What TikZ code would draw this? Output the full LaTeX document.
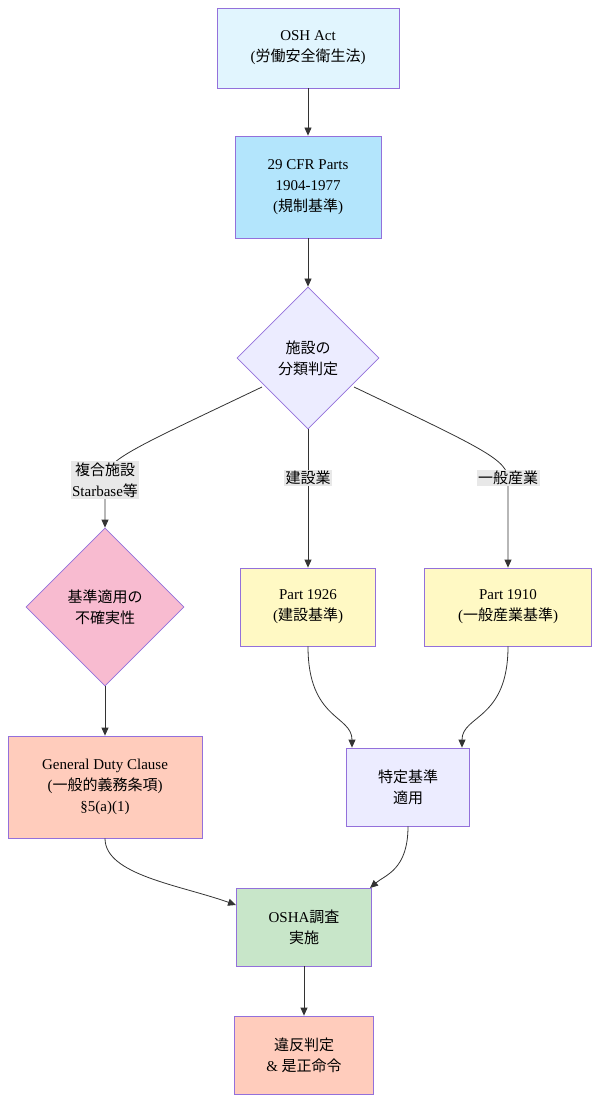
\documentclass[tikz,border=0pt]{standalone}
\usepackage{fontspec}
\setmainfont{Liberation Serif}
\newfontfamily\cjk{Noto Sans CJK JP}
\usetikzlibrary{arrows.meta,shapes.geometric}
\definecolor{bd}{HTML}{9370DB}
\definecolor{cA}{HTML}{E1F5FE}
\definecolor{cB}{HTML}{B3E5FC}
\definecolor{cC}{HTML}{ECECFF}
\definecolor{cD}{HTML}{F8BBD0}
\definecolor{cE}{HTML}{FFF9C4}
\definecolor{cF}{HTML}{FFCCBC}
\definecolor{cG}{HTML}{C8E6C9}
\tikzset{
 box/.style={draw=bd,line width=0.8pt,align=center,font=\fontsize{15}{21}\selectfont,inner sep=0pt},
 dia/.style={box,diamond,aspect=1},
 lbl/.style={fill=black!9,align=center,font=\fontsize{15}{21}\selectfont,inner sep=1.5pt},
 arr/.style={draw=black!80,line width=0.8pt,-{Triangle[length=8pt,width=7pt]}}
}
\begin{document}
\begin{tikzpicture}[x=1pt,y=-1pt]
\useasboundingbox (0,0) rectangle (600,1102);
\node[box,fill=cA,minimum width=182,minimum height=80] (osh) at (308,48) {OSH Act\\({\cjk 労働安全衛生法})};
\node[box,fill=cB,minimum width=146,minimum height=102] (cfr) at (308,187) {29 CFR Parts\\1904-1977\\({\cjk 規制基準})};
\node[dia,fill=cC,minimum width=142,minimum height=142] (cls) at (308,358) {{\cjk 施設の}\\{\cjk 分類判定}};
\node[dia,fill=cD,minimum width=158,minimum height=158] (unc) at (105,607) {{\cjk 基準適用の}\\{\cjk 不確実性}};
\node[box,fill=cE,minimum width=135,minimum height=78] (p26) at (308,607) {Part 1926\\({\cjk 建設基準})};
\node[box,fill=cE,minimum width=167,minimum height=78] (p10) at (508,607) {Part 1910\\({\cjk 一般産業基準})};
\node[box,fill=cC,minimum width=123,minimum height=78] (spec) at (408,787) {{\cjk 特定基準}\\{\cjk 適用}};
\node[box,fill=cF,minimum width=194,minimum height=102] (gd) at (105,787) {General Duty Clause\\({\cjk 一般的義務条項})\\§5(a)(1)};
\node[box,fill=cG,minimum width=135,minimum height=78] (inv) at (304,927) {OSHA{\cjk 調査}\\{\cjk 実施}};
\node[box,fill=cF,minimum width=139,minimum height=78] (vio) at (304,1055) {{\cjk 違反判定}\\\& {\cjk 是正命令}};
\draw[arr] (osh) -- (cfr);
\draw[arr] (cfr) -- (cls);
\coordinate (l1) at (262,387);
\coordinate (r1) at (354,387);
\draw[arr] (l1) .. controls (130,450) and (105,460) .. (105,480) -- (unc.north);
\node[lbl] at (105,480) {{\cjk 複合施設}\\Starbase{\cjk 等}};
\draw[arr] (cls.south) -- (p26.north);
\node[lbl] at (308,478) {\cjk 建設業};
\draw[arr] (r1) .. controls (486,450) and (508,460) .. (508,480) -- (p10.north);
\node[lbl] at (508,478) {\cjk 一般産業};
\draw[arr] (unc.south) -- (gd.north);
\draw[arr] (p26.south) .. controls (308,720) and (352,715) .. ([xshift=-56pt]spec.north);
\draw[arr] (p10.south) .. controls (508,720) and (462,715) .. ([xshift=54pt]spec.north);
\draw[arr] (spec.south) .. controls (408,870) and (385,875) .. ([xshift=66pt,yshift=39pt]inv.center);
\draw[arr] (gd.south) .. controls (105,875) and (180,885) .. ([xshift=-68pt,yshift=22pt]inv.center);
\draw[arr] (inv) -- (vio);
\end{tikzpicture}
\end{document}
